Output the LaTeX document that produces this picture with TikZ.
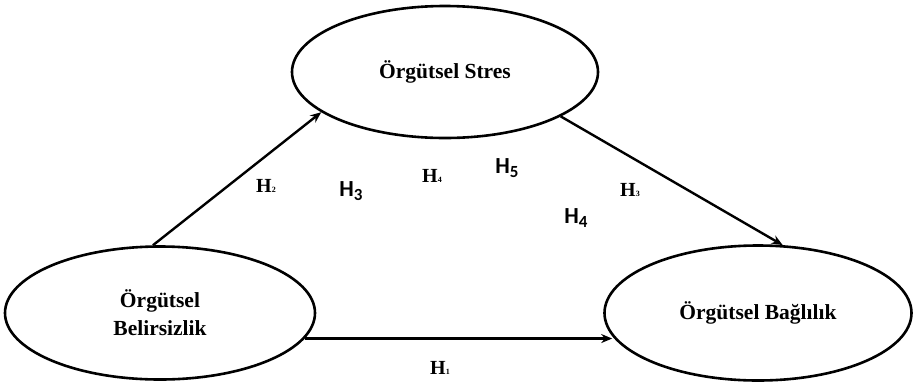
\documentclass[tikz,border=0pt]{standalone}
\usepackage{fontspec}
\setmainfont{Liberation Serif}
\newfontfamily\hsans{Carlito}
\usetikzlibrary{shapes.geometric,arrows.meta}
\tikzset{
  construct/.style={draw, ellipse, line width=2.6pt, inner sep=0pt, align=center,
    font=\fontsize{21.5}{28}\selectfont\bfseries},
  link/.style={line width=2.4pt, -{Stealth[length=11pt,width=9pt]}},
  hserif/.style={inner sep=0pt, font=\fontsize{20}{22}\selectfont\bfseries},
  hbold/.style={inner sep=0pt, font=\hsans\fontsize{23}{24}\selectfont\bfseries}
}
\newcommand{\hs}[1]{H{\fontsize{8}{8}\selectfont #1}}
\newcommand{\hb}[1]{H\raisebox{-4pt}{\fontsize{17}{17}\selectfont #1}}
\begin{document}
\begin{tikzpicture}[x=1pt,y=-1pt]
\path[use as bounding box] (0,0) rectangle (913,384);
\node[construct, minimum width=306pt, minimum height=132pt] (stres) at (445,72) {Örgütsel Stres};
\node[construct, minimum width=310pt, minimum height=133pt] (belir) at (160,313) {Örgütsel\\Belirsizlik};
\node[construct, minimum width=307pt, minimum height=135pt] (bag) at (758,313) {Örgütsel Bağlılık};
\draw[link] (belir.96) -- (stres.198.4);
\draw[link] (stres.339) -- (bag.70);
\coordinate (h1end) at ([xshift=9pt]bag.west |- belir.350);
\draw[link] (belir.350) -- (h1end);
\node[hserif] (h2) at (266,186) {\hs{2}};
\node[hbold] (h3a) at (351,191) {\hb{3}};
\node[hserif] (h4a) at (432,176) {\hs{4}};
\node[hbold] (h5) at (507,168) {\hb{5}};
\node[hserif] (h3b) at (630,190) {\hs{3}};
\node[hbold] (h4b) at (576,218) {\hb{4}};
\node[hserif] (h1) at (440,368) {\hs{1}};
\end{tikzpicture}
\end{document}
